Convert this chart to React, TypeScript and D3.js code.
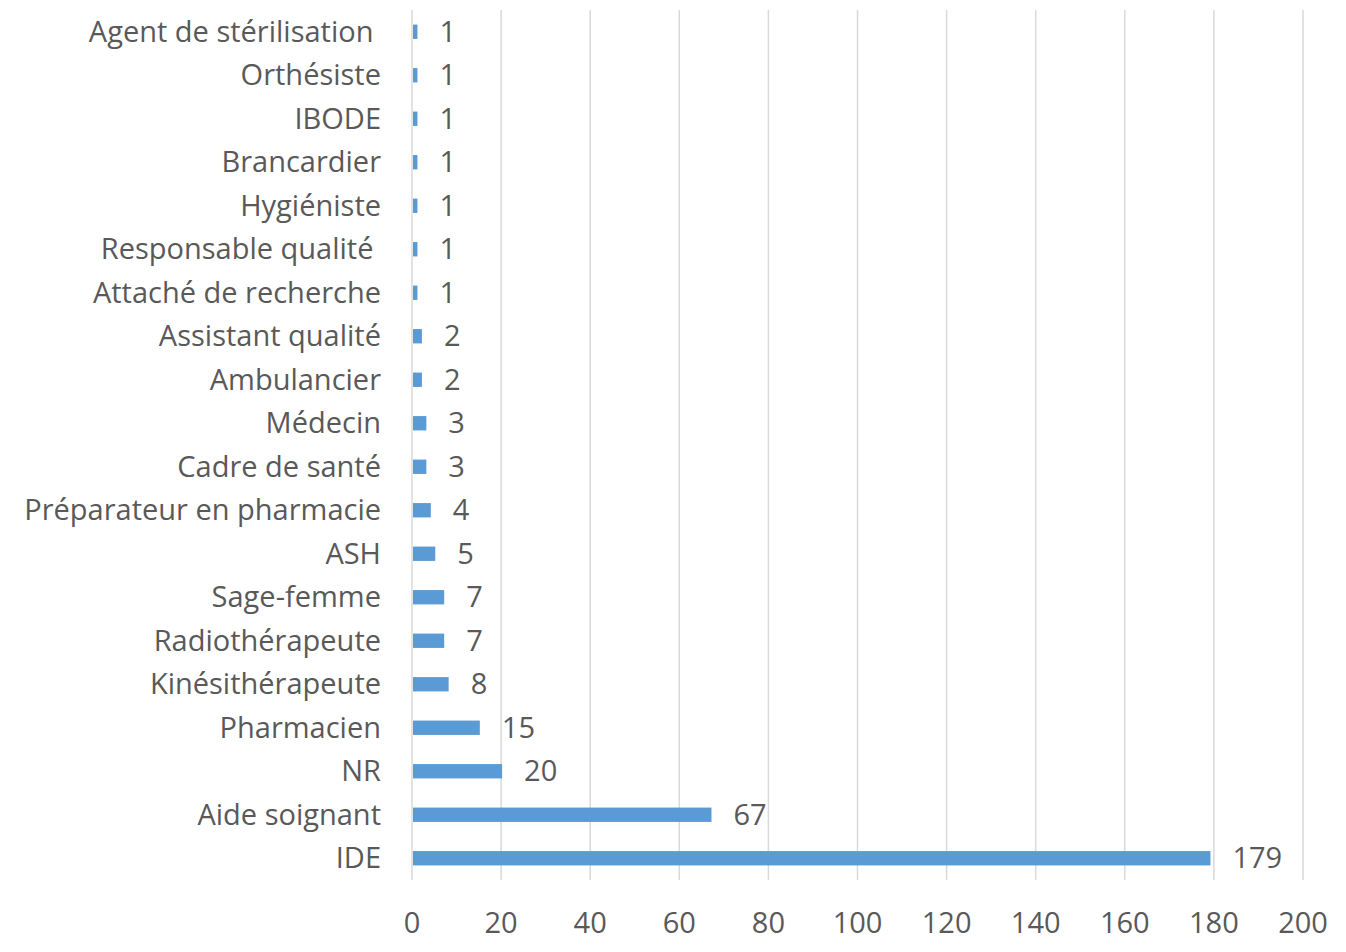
import React from 'react';
import * as d3 from 'd3';

const categories = [
  'Agent de stérilisation ',
  'Orthésiste',
  'IBODE',
  'Brancardier',
  'Hygiéniste',
  'Responsable qualité ',
  'Attaché de recherche',
  'Assistant qualité',
  'Ambulancier',
  'Médecin',
  'Cadre de santé',
  'Préparateur en pharmacie',
  'ASH',
  'Sage-femme',
  'Radiothérapeute',
  'Kinésithérapeute',
  'Pharmacien',
  'NR',
  'Aide soignant',
  'IDE',
];
const counts = [1, 1, 1, 1, 1, 1, 1, 2, 2, 3, 3, 4, 5, 7, 7, 8, 15, 20, 67, 179];
const xTicks = [0, 20, 40, 60, 80, 100, 120, 140, 160, 180, 200];

const WIDTH = 1346;
const HEIGHT = 952;
const FONT = "'Open Sans', sans-serif";
const TEXT = '#595959';

export default function App() {
  const x = d3.scaleLinear().domain([0, 200]).range([412, 1303]);
  const y = d3.scaleBand<string>().domain(categories).range([10, 880]).paddingInner(0.67).paddingOuter(0.335);

  return (
    <svg
      width={WIDTH}
      height={HEIGHT}
      style={{ position: 'absolute', left: 0, top: 0, background: '#fff' }}
    >
      <g>
        {xTicks.map(t => (
          <line key={t} x1={x(t)} x2={x(t)} y1={10} y2={880} stroke="#d9d9d9" strokeWidth={1.5} />
        ))}
      </g>
      <g>
        {categories.map((c, i) => (
          <rect
            key={c}
            x={x(0) + 1}
            y={y(c)}
            width={x(counts[i]) - x(0)}
            height={y.bandwidth()}
            fill="#5b9bd5"
          />
        ))}
      </g>
      <g fontFamily={FONT} fontSize={29} fill={TEXT}>
        {categories.map((c, i) => (
          <text
            key={c}
            x={381}
            y={y(c)! + y.bandwidth() / 2}
            dy="0.35em"
            textAnchor="end"
            style={{ whiteSpace: 'pre' }}
          >
            {c}
          </text>
        ))}
        {categories.map((c, i) => (
          <text
            key={'v' + c}
            x={x(counts[i]) + 23}
            y={y(c)! + y.bandwidth() / 2}
            dy="0.35em"
          >
            {counts[i]}
          </text>
        ))}
        {xTicks.map(t => (
          <text key={'t' + t} x={x(t)} y={923} dy="0.35em" textAnchor="middle">
            {t}
          </text>
        ))}
      </g>
    </svg>
  );
}
